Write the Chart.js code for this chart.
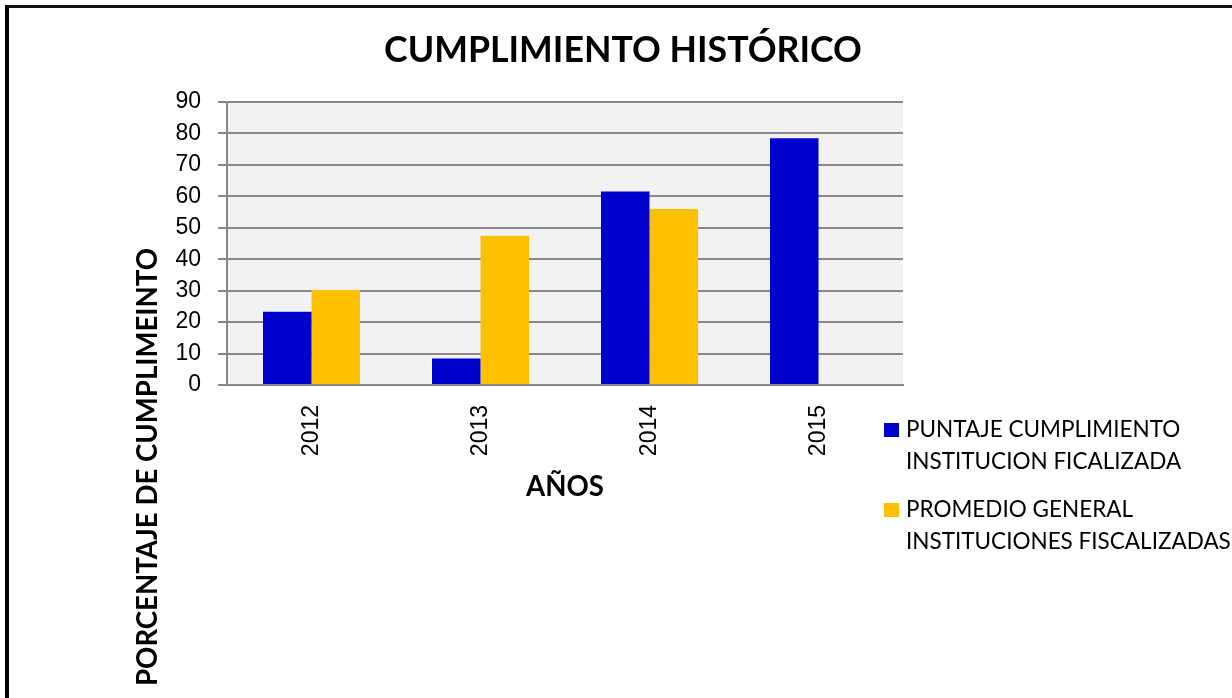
<!DOCTYPE html>
<html lang="es">
<head>
    <meta charset="UTF-8">
    <title>Cumplimiento histórico</title>
    <script src="https://cdn.jsdelivr.net/npm/chart.js"></script>
    <style>
        body {
            margin: 0;
            background: white;
        }
        #frame {
            position: absolute;
            left: 5px;
            top: 5px;
            width: 1240px;
            height: 690px;
            border-left: 4px solid #000;
            border-top: 3px solid #111;
            border-bottom: 1px solid #ddd;
        }
        #wrap {
            position: absolute;
            left: 0;
            top: 0;
            width: 1232px;
            height: 698px;
        }
    </style>
</head>
<body>
    <div id="frame"></div>
    <div id="wrap"><canvas id="chart" width="1232" height="698"></canvas></div>
    <script>
        const years = ['2012', '2013', '2014', '2015'];
        const puntaje = [23.3, 8.4, 61.5, 78.5];
        const promedio = [30.2, 47.5, 56.0, null];
        const serieNames = [
            ['PUNTAJE CUMPLIMIENTO', 'INSTITUCION FICALIZADA'],
            ['PROMEDIO GENERAL', 'INSTITUCIONES FISCALIZADAS']
        ];
        const colors = ['#0000cc', '#ffc000'];
        const chartTitle = 'CUMPLIMIENTO HISTÓRICO';
        const yTitle = 'PORCENTAJE DE CUMPLIMEINTO';
        const xTitle = 'AÑOS';

        const FONT = 'Lato, "Noto Sans", sans-serif';
        const TICK_FONT = '"Liberation Sans", Arial, sans-serif';

        // fondo gris del area de trazado
        const plotBg = {
            id: 'plotBg',
            beforeDraw(chart) {
                const a = chart.chartArea;
                const c = chart.ctx;
                c.save();
                c.fillStyle = '#f2f2f2';
                c.fillRect(a.left, a.top, a.right - a.left, a.bottom - a.top);
                c.restore();
            }
        };

        // titulo, titulo del eje Y y leyenda de dos lineas
        const extras = {
            id: 'extras',
            afterDraw(chart) {
                const c = chart.ctx;
                c.save();
                c.fillStyle = '#000';
                c.font = 'bold 35.7px ' + FONT;
                c.textAlign = 'center';
                c.textBaseline = 'alphabetic';
                c.fillText(chartTitle, 623, 62);

                c.font = 'bold 27.6px ' + FONT;
                c.textBaseline = 'middle';
                c.translate(148, 467);
                c.rotate(-Math.PI / 2);
                c.fillText(yTitle, 0, 0);
                c.restore();

                c.save();
                c.font = '22.5px ' + FONT;
                c.textBaseline = 'middle';
                c.textAlign = 'left';
                chart.data.datasets.forEach((ds, i) => {
                    const y = 430 + i * 80;
                    c.fillStyle = ds.backgroundColor;
                    c.fillRect(884, y - 7, 15, 14);
                    c.fillStyle = '#000';
                    ds.label.forEach((line, j) => c.fillText(line, 906, y + j * 32));
                });
                c.restore();
            }
        };

        new Chart(document.getElementById('chart'), {
            type: 'bar',
            data: {
                labels: years,
                datasets: [
                    { label: serieNames[0], data: puntaje, backgroundColor: colors[0] },
                    { label: serieNames[1], data: promedio, backgroundColor: colors[1] }
                ]
            },
            options: {
                responsive: false,
                animation: false,
                datasets: {
                    bar: { categoryPercentage: 0.574, barPercentage: 1 }
                },
                layout: { padding: { left: 0, right: 329, top: 102, bottom: 194 } },
                plugins: {
                    legend: { display: false },
                    tooltip: { enabled: false },
                    title: { display: false }
                },
                scales: {
                    x: {
                        grid: { display: false },
                        border: { display: true, color: '#888', width: 2 },
                        ticks: {
                            color: '#000',
                            font: { family: TICK_FONT, size: 23 },
                            minRotation: 90,
                            maxRotation: 90,
                            padding: 12
                        },
                        title: {
                            display: true,
                            text: xTitle,
                            color: '#000',
                            font: { family: FONT, size: 27.6, weight: 'bold' },
                            padding: 0
                        },
                        afterFit: s => { s.height = 119; }
                    },
                    y: {
                        min: 0,
                        max: 90,
                        grid: { color: '#888', lineWidth: 2, tickLength: 9 },
                        border: { display: true, color: '#888', width: 2 },
                        ticks: {
                            stepSize: 10,
                            color: '#000',
                            font: { family: TICK_FONT, size: 23 },
                            padding: 17
                        },
                        afterFit: s => { s.width = 227; }
                    }
                }
            },
            plugins: [plotBg, extras]
        });
    </script>
</body>
</html>
